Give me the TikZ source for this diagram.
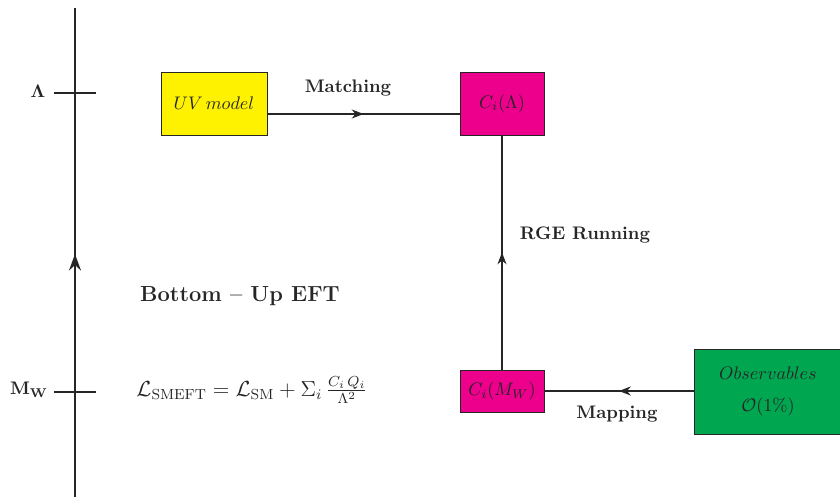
\documentclass[tikz,border=0pt]{standalone}
\usepackage{amsmath,amssymb}
\usetikzlibrary{arrows.meta,decorations.markings}
\definecolor{uvyellow}{HTML}{FFF200}
\definecolor{coefmag}{HTML}{EC008C}
\definecolor{obsgreen}{HTML}{00A650}
\definecolor{ink}{HTML}{262626}
\begin{document}
\begin{tikzpicture}[x=0.55pt,y=-0.55pt,
  every node/.style={text=ink},
  box/.style={draw=ink,line width=0.45pt,inner sep=0pt,anchor=center},
  conn/.style={draw=ink,line width=0.6pt},
  midarrow/.style={postaction={decorate},decoration={markings,
    mark=at position 0.5 with {\arrow{Stealth[length=6.5pt,width=5pt]}}}},
  axisarrow/.style={postaction={decorate},decoration={markings,
    mark=at position 0.5 with {\arrow{Stealth[length=9pt,width=6.5pt]}}}},
  tick/.style={draw=ink,line width=0.7pt},
  lbl/.style={font=\bfseries}]
\useasboundingbox (0,0) rectangle (840,497);

% energy axis
\coordinate (axbot) at (75,500);
\coordinate (axtop) at (75,8);
\draw[ink,line width=1.5pt,axisarrow] (axbot) -- (axtop);

% scale ticks
\coordinate (tLa) at (54,93);  \coordinate (tLb) at (96,93);
\coordinate (tMa) at (54,392); \coordinate (tMb) at (96,392);
\draw[tick] (tLa) -- (tLb);
\draw[tick] (tMa) -- (tMb);
\node (lamlbl) at (38,91) {$\boldsymbol{\Lambda}$};
\node (mwlbl) at (29,390) {$\mathbf{M_W}$};

% boxes
\node[box,fill=uvyellow,minimum width=106*0.55pt,minimum height=63*0.55pt] (uv) at (214,103.5) {$UV\,model$};
\node[box,fill=coefmag,minimum width=84*0.55pt,minimum height=63*0.55pt] (cl) at (502,103.5) {$C_i(\Lambda)$};
\node[box,fill=coefmag,minimum width=84*0.55pt,minimum height=42*0.55pt] (cm) at (502,391) {$C_i(M_W)$};
\node[box,fill=obsgreen,minimum width=148*0.55pt,minimum height=85*0.55pt,align=center] (obs) at (768,391.5)
  {$Observables$\\[6pt]$\mathcal{O}(1\%)$};

% connectors
\coordinate (uvout) at (uv.east |- 0,114);
\coordinate (clin) at (cl.west |- 0,114);
\draw[conn,midarrow] (uvout) -- (clin);
\draw[conn,midarrow] (cm.north) -- (cl.south);
\draw[conn,midarrow] (obs.west |- cm.east) -- (cm.east);

% labels
\node[lbl] (matchlbl) at (348,88) {Matching};
\node[lbl] (rgelbl) at (585,235) {RGE Running};
\node[lbl] (maplbl) at (617,414) {Mapping};
\node[font=\large\bfseries] (bulbl) at (240,296) {Bottom -- Up EFT};
\node[font=\large] (lag) at (252,390)
  {$\mathcal{L}_{\mathrm{SMEFT}} = \mathcal{L}_{\mathrm{SM}} + \Sigma_i\,\frac{C_i\,Q_i}{\Lambda^2}$};
\end{tikzpicture}
\end{document}
